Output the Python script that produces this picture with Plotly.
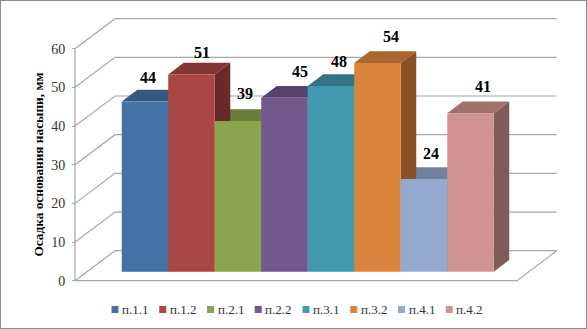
import plotly.graph_objects as go

categories = ["п.1.1", "п.1.2", "п.2.1", "п.2.2", "п.3.1", "п.3.2", "п.4.1", "п.4.2"]
values = [44, 51, 39, 45, 48, 54, 24, 41]
colors = ["#4472A5", "#AA4643", "#89A54E", "#71588F", "#4198AF", "#DB843D", "#93A9CF", "#D19392"]
ticks = [0, 10, 20, 30, 40, 50, 60]
y_title = "Осадка основания насыпи, мм"

W, H = 587, 329
SERIF = "Liberation Serif"
PX_X, PX_Y = 46.5, 3.867
X0_PX, Y0_PX = 145.0, 271.7
x_range = [-X0_PX / PX_X, (W - X0_PX) / PX_X]
y_range = [-(H - Y0_PX) / PX_Y, Y0_PX / PX_Y]
AX_Y0_PX = 280.7
y3_range = [-(H - AX_Y0_PX) / PX_Y, AX_Y0_PX / PX_Y]
FRONT_L, BACK_L, FRONT_R, BACK_R = -1.505, -0.645, 8.0, 8.854
FRONT_V, BACK_V = -2.327, 5.43
DX, DV = 1 / 3, 3.03
GRID = "#A6A6A6"


def shade(hex_color, k):
    r, g, b = (int(hex_color[i:i + 2], 16) for i in (1, 3, 5))
    return f"rgb({r * k:.0f},{g * k:.0f},{b * k:.0f})"


fig = go.Figure()

for t in ticks:
    fig.add_trace(go.Scatter(
        x=[FRONT_L, BACK_L, BACK_R], y=[t + FRONT_V, t + BACK_V, t + BACK_V],
        mode="lines", line=dict(color=GRID, width=1.2), showlegend=False, hoverinfo="skip"))
fig.add_trace(go.Scatter(
    x=[FRONT_L, FRONT_L], y=[FRONT_V, FRONT_V + ticks[-1]],
    mode="lines", line=dict(color=GRID, width=1.2), showlegend=False, hoverinfo="skip"))
fig.add_trace(go.Scatter(
    x=[FRONT_L, FRONT_R, BACK_R], y=[FRONT_V, FRONT_V, BACK_V],
    mode="lines", line=dict(color=GRID, width=1.2), showlegend=False, hoverinfo="skip"))

for i in range(len(values) - 1, -1, -1):
    v = values[i]
    l, r = i - 0.5, i + 0.5
    fig.add_trace(go.Scatter(
        x=[l, r, r + DX, l + DX, l], y=[v, v, v + DV, v + DV, v],
        mode="lines", fill="toself", fillcolor=shade(colors[i], 0.77),
        line=dict(width=0), showlegend=False, hoverinfo="skip"))
    fig.add_trace(go.Scatter(
        x=[r, r + DX, r + DX, r, r], y=[0, DV, v + DV, v, 0],
        mode="lines", fill="toself", fillcolor=shade(colors[i], 0.62),
        line=dict(width=0), showlegend=False, hoverinfo="skip"))

for i, (name, v) in enumerate(zip(categories, values)):
    fig.add_trace(go.Bar(
        x=[i], y=[v], width=1, name=name, yaxis="y2",
        marker=dict(color=colors[i], line=dict(width=0)), showlegend=False))

fig.add_trace(go.Scatter(x=[0], y=[0], yaxis="y3", mode="markers",
                         marker=dict(opacity=0), showlegend=False, hoverinfo="skip"))

label_dx = [3, 10, 7, 15, 8, 13, 7, 12.5]
label_dy = [24, 21.5, 27, 26, 25, 26, 25.5, 26.5]
for i, v in enumerate(values):
    fig.add_annotation(x=i, y=v, xref="x", yref="y", text=f"<b>{v}</b>", showarrow=False,
                       xshift=label_dx[i], yshift=label_dy[i],
                       font=dict(family=SERIF, size=16, color="#000000"))

LEG_X0, LEG_STEP, LEG_Y, SW = 111.5, 47.75, 309.5, 7
for i, name in enumerate(categories):
    x = LEG_X0 + i * LEG_STEP
    fig.add_shape(type="rect", xref="paper", yref="paper", line=dict(width=0),
                  x0=x / W, x1=(x + SW) / W,
                  y0=1 - (LEG_Y + SW / 2) / H, y1=1 - (LEG_Y - SW / 2) / H,
                  fillcolor=colors[i])
    fig.add_annotation(xref="paper", yref="paper", x=(x + SW + 1.5) / W, y=1 - LEG_Y / H,
                       xanchor="left", yanchor="middle", text=name, showarrow=False,
                       font=dict(family=SERIF, size=13, color="#333333"))

fig.add_shape(type="rect", xref="paper", yref="paper", x0=0, y0=0, x1=1, y1=1,
              line=dict(color="#8C8C8C", width=2), fillcolor="rgba(0,0,0,0)")

fig.update_layout(
    width=W, height=H, margin=dict(l=0, r=0, t=0, b=0),
    paper_bgcolor="white", plot_bgcolor="white", barmode="overlay",
    font=dict(family=SERIF),
    xaxis=dict(range=x_range, visible=False, fixedrange=True),
    yaxis=dict(range=y_range, visible=False, fixedrange=True),
    yaxis2=dict(range=y_range, visible=False, overlaying="y", fixedrange=True),
    yaxis3=dict(
        range=y3_range, overlaying="y", anchor="free", position=75 / W, side="left",
        tickmode="array", tickvals=ticks, ticks="outside", ticklen=3, tickwidth=1,
        tickcolor=GRID, showgrid=False, zeroline=False, showline=False, fixedrange=True,
        ticklabelstandoff=4,
        tickfont=dict(family=SERIF, size=14, color="#333333"),
        title=dict(text=f"<b>{y_title}</b>", font=dict(family=SERIF, size=13.3, color="#000000"),
                   standoff=3)),
)

fig.write_html("out.html", config={"displayModeBar": False},
               post_script="document.body.style.margin='0';document.documentElement.style.overflow='hidden';")
